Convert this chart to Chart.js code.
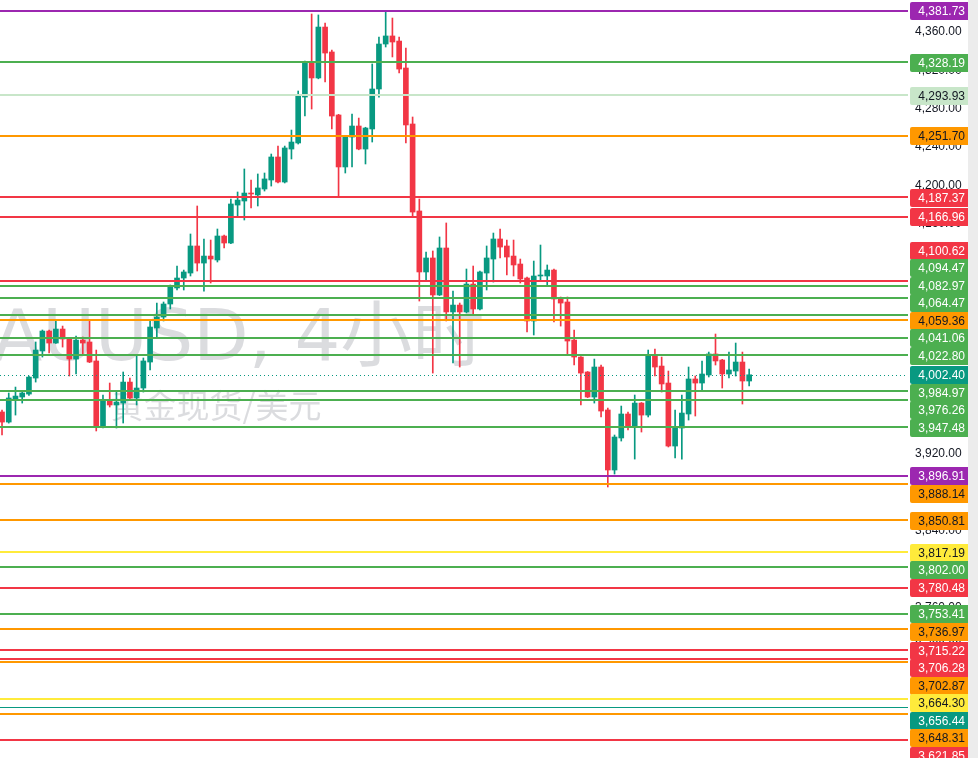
<!DOCTYPE html>
<html>
<head>
<meta charset="utf-8">
<script src="https://cdn.jsdelivr.net/npm/chart.js@4.4.0/dist/chart.umd.min.js"></script>
<style>
html, body { margin: 0; padding: 0; background: #fff; overflow: hidden; }
canvas { display: block; }
</style>
</head>
<body>
<canvas id="chart" width="978" height="758"></canvas>
<script>
// XAUUSD 4h candles
var opens = [3963.6,3953.1,3977.1,3979.2,3982.3,3999.0,4027.2,4048.0,4035.5,4050.1,4039.7,4018.8,4038.6,4036.6,4016.8,3947.9,3976.1,3970.9,3972.9,3994.8,
  3978.2,3988.6,4015.7,4051.2,4062.6,4076.2,4092.9,4103.3,4108.5,4136.7,4118.9,4126.2,4122.1,4147.1,4139.8,4179.4,4183.6,4191.9,4189.9,4196.1,
  4205.5,4229.5,4203.4,4237.8,4244.1,4292.0,4327.5,4311.9,4365.0,4339.0,4273.3,4219.1,4250.3,4261.8,4237.8,4258.7,4300.4,4347.3,4355.7,4350.4,
  4322.3,4263.9,4173.2,4109.6,4124.2,4085.6,4134.6,4067.9,4075.1,4067.9,4097.0,4071.0,4108.5,4123.1,4144.0,4136.7,4126.2,4117.9,4103.3,4058.5,
  4105.4,4105.4,4111.6,4082.5,4078.3,4038.6,4020.9,4005.3,3979.2,4010.5,3965.7,3903.1,3936.5,3961.5,3949.0,3972.9,3960.4,4023.0,4011.5,3993.8,
  3928.1,3946.9,3961.5,3998.0,3993.8,4002.2,4024.1,4017.8,4003.2,4006.3,4015.7,3995.9];
var highs = [3965.7,3983.4,3989.6,3985.5,4001.0,4036.6,4049.1,4049.1,4058.5,4053.2,4040.5,4042.8,4041.8,4058.5,4028.2,3981.3,3993.8,3984.4,4005.3,3999.0,
  4022.0,4019.9,4059.5,4077.2,4078.3,4096.0,4115.8,4111.6,4149.2,4178.4,4144.0,4142.9,4154.4,4148.0,4185.7,4193.0,4217.0,4205.5,4211.8,4212.8,
  4232.6,4240.9,4240.9,4257.6,4298.3,4329.6,4378.6,4377.6,4369.2,4341.1,4274.0,4251.4,4274.3,4270.1,4260.5,4326.5,4354.6,4381.7,4374.4,4354.6,
  4343.1,4271.2,4185.7,4130.4,4131.5,4146.1,4160.7,4089.7,4077.2,4112.7,4115.8,4110.5,4136.7,4150.2,4154.4,4142.9,4142.9,4123.1,4104.3,4121.0,
  4137.7,4116.9,4112.5,4083.5,4083.5,4049.1,4021.5,4005.8,4018.8,4012.6,3967.7,3939.6,3969.8,3963.6,3981.3,3973.5,4028.2,4029.3,4020.9,4006.3,
  3965.7,3981.3,4010.5,4001.1,4016.8,4026.1,4044.9,4018.5,4026.1,4035.5,4026.1,4008.4];
var lows = [3939.6,3952.0,3960.4,3972.9,3981.0,3994.8,4020.9,4025.1,4035.0,4031.3,4001.1,4003.2,4023.0,4015.0,3943.8,3947.0,3968.8,3946.9,3952.1,3976.1,
  3970.9,3984.4,4007.4,4041.8,4058.5,4071.0,4090.8,4090.8,4105.4,4110.6,4089.7,4098.1,4120.0,4134.6,4139.0,4166.9,4163.8,4176.3,4178.4,4194.0,
  4199.2,4202.4,4202.4,4227.4,4243.0,4272.2,4279.5,4311.0,4307.7,4258.7,4187.4,4212.8,4219.1,4237.0,4222.2,4245.1,4292.0,4344.2,4333.8,4317.1,
  4244.1,4166.9,4079.3,4100.2,4004.2,4085.0,4058.5,4014.7,4010.5,4066.8,4064.7,4070.0,4090.8,4099.1,4124.2,4106.4,4105.4,4098.1,4047.0,4043.9,
  4101.2,4096.0,4057.4,4053.2,4023.0,4012.6,3970.9,3978.5,3972.9,3958.4,3885.4,3898.9,3933.3,3944.8,3914.5,3942.7,3958.4,4001.1,3984.4,3927.1,
  3915.6,3914.5,3955.2,3959.4,3985.5,4000.1,4012.6,3988.6,3999.0,4001.1,3971.9,3990.7];
var closes = [3953.1,3978.2,3980.2,3983.4,4000.0,4028.2,4048.0,4035.5,4050.1,4039.7,4018.8,4038.6,4035.5,4015.7,3947.9,3976.1,3970.9,3974.0,3994.8,3978.2,
  3988.6,4016.8,4052.2,4062.6,4076.2,4093.9,4103.3,4109.6,4136.7,4118.9,4126.2,4123.1,4147.1,4139.8,4180.5,4184.6,4191.9,4190.9,4197.2,4206.6,
  4229.5,4203.4,4238.9,4245.1,4293.1,4327.5,4311.9,4365.0,4337.9,4272.2,4219.1,4250.3,4261.8,4237.8,4259.7,4300.4,4347.3,4355.7,4349.4,4321.2,
  4262.9,4172.1,4109.6,4124.2,4085.6,4134.6,4067.9,4075.1,4067.9,4097.0,4071.0,4109.6,4124.2,4144.0,4135.6,4125.2,4116.9,4102.3,4058.5,4105.4,
  4106.0,4111.6,4081.4,4077.2,4037.6,4020.9,4004.2,3979.2,4010.5,3964.6,3903.1,3937.5,3961.5,3949.0,3972.9,3960.4,4023.0,4010.5,3992.8,3928.1,
  3947.9,3962.5,3998.0,3993.8,4003.2,4024.1,4016.8,4003.2,4007.4,4015.7,3995.9,4002.4];

// horizontal levels drawn on the chart
var levels = [4381.73,4328.19,4293.93,4251.70,4187.37,4166.96,4100.62,4094.47,4082.97,4064.47,4059.36,4041.06,4022.80,3984.97,3976.26,3947.48,
  3896.91,3888.14,3850.81,3817.19,3802.00,3780.48,3753.41,3736.97,3715.22,3706.28,3702.87,3664.30,3656.44,3648.31,3621.85];
var levelColors = ['#9c27b0','#4caf50','#c8e6c9','#ff9800','#f23645','#f23645','#f23645','#4caf50','#4caf50','#4caf50','#ff9800','#4caf50','#4caf50','#4caf50','#4caf50','#4caf50',
  '#9c27b0','#ff9800','#ff9800','#ffeb3b','#4caf50','#f23645','#4caf50','#ff9800','#f23645','#f23645','#ff9800','#ffeb3b','#089981','#ff9800','#f23645'];
var lastPrice = 4002.40;
var yTicks = [3640,3680,3720,3760,3800,3840,3880,3920,3960,4000,4040,4080,4120,4160,4200,4240,4280,4320,4360];

var UP = '#089981', DOWN = '#f23645';
var darkText = ['#c8e6c9', '#ff9800', '#ffeb3b'];

function fmt(v) {
  return v.toLocaleString('en-US', { minimumFractionDigits: 2, maximumFractionDigits: 2 });
}

var bodies = [], wicks = [], colors = [];
for (var i = 0; i < opens.length; i++) {
  bodies.push({ x: i, y: [opens[i], closes[i]] });
  wicks.push({ x: i, y: [lows[i], highs[i]] });
  colors.push(closes[i] >= opens[i] ? UP : DOWN);
}

var watermark = {
  id: 'watermark',
  beforeDatasetsDraw: function(chart) {
    var ctx = chart.ctx;
    ctx.save();
    ctx.fillStyle = 'rgba(180,182,188,0.48)';
    ctx.textAlign = 'center';
    ctx.textBaseline = 'alphabetic';
    ctx.font = '72px "DejaVu Sans", "Noto Sans CJK SC"';
    ctx.fillText('XAUUSD, 4小时', 214, 360);
    ctx.font = '33px "Noto Sans CJK SC"';
    ctx.textBaseline = 'middle';
    ctx.fillText('黄金现货/美元', 216, 405);
    ctx.restore();
  }
};

var levelLines = {
  id: 'levelLines',
  afterDatasetsDraw: function(chart) {
    var ctx = chart.ctx, area = chart.chartArea, y = chart.scales.y;
    ctx.save();
    levels.forEach(function(v, i) {
      var thin = levelColors[i] === UP;
      var py = Math.round(y.getPixelForValue(v)) + (thin ? 0.5 : 0);
      ctx.strokeStyle = levelColors[i];
      ctx.lineWidth = thin ? 1 : 2;
      ctx.beginPath();
      ctx.moveTo(area.left, py);
      ctx.lineTo(area.right, py);
      ctx.stroke();
    });
    // current price, dotted
    var cy = Math.round(y.getPixelForValue(lastPrice)) + 0.5;
    ctx.strokeStyle = UP;
    ctx.lineWidth = 1;
    ctx.setLineDash([1, 3]);
    ctx.beginPath();
    ctx.moveTo(area.left, cy);
    ctx.lineTo(area.right - 3, cy);
    ctx.stroke();
    ctx.restore();
  },
  afterDraw: function(chart) {
    var ctx = chart.ctx, area = chart.chartArea, y = chart.scales.y;
    var h = 17.5;
    var items = levels.map(function(v, i) { return { v: v, color: levelColors[i] }; });
    items.push({ v: lastPrice, color: UP, cur: true });
    items.sort(function(a, b) { return b.v - a.v; });
    items.forEach(function(it) { it.t = it.y = y.getPixelForValue(it.v); });
    // stack labels away from the current price label so none overlap
    var k = items.findIndex(function(it) { return it.cur; });
    for (var i = k - 1; i >= 0; i--) items[i].y = Math.min(items[i].t, items[i + 1].y - h);
    for (var j = k + 1; j < items.length; j++) items[j].y = Math.max(items[j].t, items[j - 1].y + h);

    ctx.save();
    ctx.font = '12px "Liberation Sans", Arial, sans-serif';
    ctx.textAlign = 'right';
    ctx.textBaseline = 'middle';
    items.forEach(function(it) {
      var top = Math.round(it.y - 8.5);
      ctx.fillStyle = it.color;
      ctx.beginPath();
      ctx.roundRect(area.right + 2, top, 60, 18, 2);
      ctx.fill();
      ctx.fillStyle = darkText.indexOf(it.color) >= 0 ? '#131722' : '#ffffff';
      ctx.fillText(fmt(it.v), 965, top + 9.5);
    });
    ctx.fillStyle = '#ececec';
    ctx.fillRect(968, 0, 10, chart.height);
    ctx.restore();
  }
};

new Chart(document.getElementById('chart'), {
  type: 'bar',
  data: {
    datasets: [
      { data: wicks, backgroundColor: colors, barThickness: 1, grouped: false, order: 2 },
      { data: bodies, backgroundColor: colors, barThickness: 5, grouped: false, minBarLength: 1, order: 1 }
    ]
  },
  options: {
    responsive: false,
    animation: false,
    devicePixelRatio: 1,
    layout: { padding: 0 },
    plugins: { legend: { display: false }, tooltip: { enabled: false } },
    scales: {
      x: { type: 'linear', display: false, min: -0.3, max: 134.6, offset: false },
      y: {
        position: 'right',
        min: 3602.8,
        max: 4393.2,
        beginAtZero: false,
        grid: { display: false, drawTicks: false },
        border: { display: false },
        afterFit: function(scale) {
          scale.width = 70;
          scale.paddingTop = 0;
          scale.paddingBottom = 0;
        },
        afterBuildTicks: function(scale) {
          scale.ticks = yTicks.map(function(v) { return { value: v }; });
        },
        ticks: {
          padding: 7,
          color: '#131722',
          font: { family: '"Liberation Sans", Arial, sans-serif', size: 12 },
          callback: function(v) { return fmt(v); }
        }
      }
    }
  },
  plugins: [watermark, levelLines]
});
</script>
</body>
</html>
